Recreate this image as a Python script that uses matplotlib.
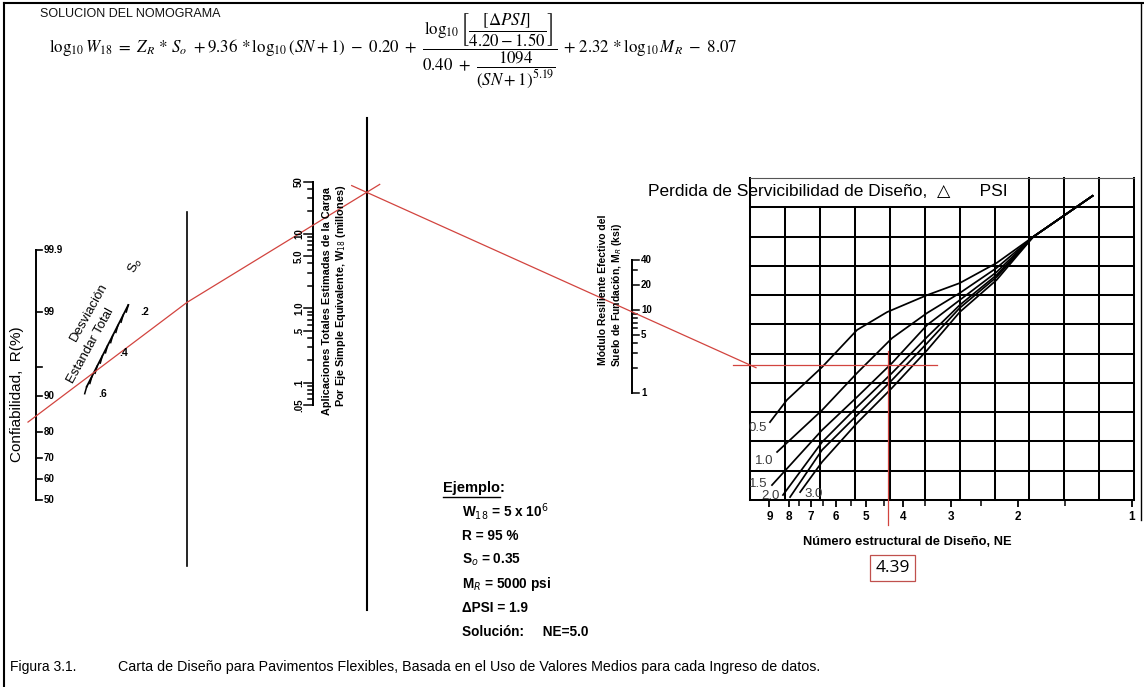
import numpy as np
import matplotlib.pyplot as plt
from statistics import NormalDist

# reliability R (%)
r_ticks = [50, 60, 70, 80, 90, 95, 99, 99.9]
r_labels = ['50', '60', '70', '80', '90', '', '99', '99.9']
# overall standard deviation S0
s0_ticks = [0.2, 0.25, 0.3, 0.35, 0.4, 0.45, 0.5, 0.55, 0.6]
s0_labels = ['.2', '', '', '', '.4', '', '', '', '.6']
# 18-kip ESAL applications (millions)
w18_ticks = [0.05, 0.06, 0.07, 0.08, 0.09, 0.1, 0.2, 0.3, 0.4, 0.5, 0.6, 0.7,
             0.8, 0.9, 1, 2, 3, 4, 5, 6, 7, 8, 9, 10, 20, 30, 40, 50]
w18_major = [0.05, 0.1, 0.5, 1, 5, 10, 50]
w18_labels = ['.05', '.1', '.5', '1.0', '5.0', '10', '50']
# subgrade resilient modulus (ksi)
mr_ticks = [1, 2, 3, 4, 5, 6, 7, 8, 9, 10, 20, 30, 40]
mr_major = [1, 5, 10, 20, 40]
mr_labels = ['1', '5', '10', '20', '40']
# structural number axis
sn_ticks = [1, 2, 3, 4, 5, 6, 7, 8, 9]
sn_minor = [1.5, 2.5, 3.5, 4.5, 5.5, 6.5, 7.5]

# serviceability-loss curves: SN vs grid rows (0 = bottom line)
psi_values = ['0.5', '1.0', '1.5', '2.0', '2.5', '3.0']
psi_sn = [
    [1.27, 1.82, 2.27, 2.84, 3.46, 4.41, 5.29, 6.54, 8.09, 8.97],
    [1.27, 1.82, 2.27, 2.84, 3.46, 4.28, 5.29, 6.54, 8.59],
    [1.27, 1.82, 2.27, 2.84, 3.46, 4.28, 5.29, 6.54, 8.86],
    [1.27, 1.82, 2.27, 2.84, 3.46, 4.28, 5.29, 6.54, 8.29],
    [1.27, 1.82, 2.27, 2.84, 3.46, 4.28, 5.29, 6.54, 7.94],
    [1.27, 1.82, 2.27, 2.84, 3.46, 4.28, 5.29, 6.54, 7.47],
]
psi_row = [
    [10.39, 8.99, 8.10, 7.41, 7.00, 6.42, 5.81, 4.54, 3.42, 2.66],
    [10.39, 8.99, 7.93, 7.07, 6.39, 5.53, 4.34, 3.07, 1.64],
    [10.39, 8.99, 7.79, 6.83, 5.98, 4.68, 3.52, 2.39, 0.51],
    [10.39, 8.99, 7.69, 6.66, 5.57, 4.34, 3.18, 1.98, 0.17],
    [10.39, 8.99, 7.62, 6.56, 5.36, 4.10, 2.90, 1.71, 0.10],
    [10.39, 8.99, 7.52, 6.42, 5.12, 3.83, 2.63, 1.30, 0.27],
]
# label offsets in pixels from each curve's lower end (x right, y up)
psi_label_offset = [(-3, -6), (-4, -9), (-5, 1), (-3, -1), None, (4, -2)]

# worked solution traced on the chart
R_sol, S0_sol, W18_sol, MR_sol, SN_sol = 85, 0.53, 13, 9.5, 4.39

W, H = 1144, 687
SANS = ['Liberation Sans', 'DejaVu Sans']
RED = '#d2443f'

# scale geometry (canvas pixels, y down)
R_X, R_Y50, R_K = 36, 500, 81
S0_A, S0_B = np.array([86.7, 386.7]), np.array([128.3, 305.0])
TL1_X, TL2_X = 187, 366.7
W_X, W_TOP, W_DEC = 313, 181.7, 74.4
M_X, M_BOT, M_DEC = 632, 393, 83
C_X0, C_X1, C_Y0, C_Y1 = 750, 1134.3, 178, 500
SN_X1, SN_DEC = 1132, 380


def r_y(r):
    return R_Y50 - R_K * NormalDist().inv_cdf(r / 100)


def s0_xy(s):
    return S0_A + (0.6 - s) / 0.4 * (S0_B - S0_A)


def w_y(w):
    return W_TOP + (np.log10(50) - np.log10(w)) * W_DEC


def m_y(m):
    return M_BOT - M_DEC * np.log10(m)


def sn_x(sn):
    return SN_X1 - SN_DEC * np.log10(sn)


def sn_at(x):
    return 10 ** ((SN_X1 - x) / SN_DEC)


def y_on_line(p, q, x):
    return p[1] + (q[1] - p[1]) * (x - p[0]) / (q[0] - p[0])


fig = plt.figure(figsize=(W / 100, H / 100), dpi=100)
fig.patch.set_facecolor('white')

# ---- design chart (SN vs turning value) ----
cx = fig.add_axes([C_X0 / W, 1 - C_Y1 / H, (C_X1 - C_X0) / W, (C_Y1 - C_Y0) / H])
cx.set_xscale('log')
cx.set_xlim(sn_at(C_X0), sn_at(C_X1))
cx.set_ylim(0, 11)
cx.patch.set_visible(False)
for sp in cx.spines.values():
    sp.set_visible(False)
cx.set_yticks([])
cx.set_xticks(sn_ticks)
cx.set_xticklabels([str(t) for t in sn_ticks], fontsize=8.5, fontweight='bold',
                   family=SANS)
cx.set_xticks(sn_minor, minor=True)
cx.xaxis.set_minor_formatter(plt.NullFormatter())
cx.tick_params(axis='x', which='major', direction='out', length=5, width=1.3, pad=3)
cx.tick_params(axis='x', which='minor', direction='out', length=4, width=1.1)

ncol = 11
for i in range(ncol + 1):
    top = 1.0 if (i == 0 or i >= 8) else 10 / 11
    cx.plot([i / ncol, i / ncol], [0, top], color='black', lw=1.45,
            transform=cx.transAxes, clip_on=False)
for j in range(11):
    cx.plot([0, 1], [j / 11, j / 11], color='black', lw=1.45,
            transform=cx.transAxes, clip_on=False)
cx.plot([0, 1], [1, 1], color='#555555', lw=0.8, transform=cx.transAxes,
        clip_on=False)

for lab, sn, row, off in zip(psi_values, psi_sn, psi_row, psi_label_offset):
    cx.plot(sn, row, color='black', lw=1.25, clip_on=False)
    if off is not None:
        cx.annotate(lab, (sn[-1], row[-1]), xytext=off, textcoords='offset pixels',
                    ha='left' if off[0] > 0 else 'right', va='center',
                    fontsize=9.5, color='#3a3a3a', family=SANS)

# ---- nomogram canvas on top ----
ax = fig.add_axes([0, 0, 1, 1])
ax.set_xlim(0, W)
ax.set_ylim(H, 0)
ax.axis('off')
ax.patch.set_visible(False)

# frame
ax.plot([4, 4], [3, H], color='black', lw=1.5)
ax.plot([4, W], [3, 3], color='black', lw=1.5)
ax.plot([1141, 1141], [3, 520], color='black', lw=1.0)

ax.text(40, 14, 'SOLUCION DEL NOMOGRAMA', fontsize=9, family=SANS,
        va='center', ha='left', color='#111111')

# design equation: the fraction is set first, the two sides are attached to it
eq_size, eq_base = 12.2, 52
eq_mid = (r'$\dfrac{\log_{10}\left[\dfrac{[\Delta PSI]}{4.20-1.50}\right]}'
          r'{0.40\ +\ \dfrac{1094}{(SN+1)^{5.19}}}$')
eq_left = r'$\log_{10}W_{18}\ =\ Z_R\,*\,S_o\ +9.36\,*\log_{10}(SN+1)\ -\ 0.20\ +$'
eq_right = r'$+\ 2.32\,*\log_{10}M_R\ -\ 8.07$'
mid = ax.text(490, eq_base, eq_mid, fontsize=eq_size, ha='center', va='baseline',
              math_fontfamily='stix')
fig.canvas.draw()
bb = mid.get_window_extent(renderer=fig.canvas.get_renderer())
ax.text(bb.x0 - 5, eq_base, eq_left, fontsize=eq_size, ha='right', va='baseline',
        math_fontfamily='stix')
ax.text(bb.x1 + 5, eq_base, eq_right, fontsize=eq_size, ha='left', va='baseline',
        math_fontfamily='stix')

# reliability scale
ax.plot([R_X, R_X], [r_y(99.9), r_y(50)], color='black', lw=1.4)
for r, lab in zip(r_ticks, r_labels):
    y = r_y(r)
    ax.plot([R_X, R_X + 6], [y, y], color='black', lw=1.2)
    ax.text(R_X + 8, y, lab, fontsize=7, fontweight='bold', va='center',
            family=SANS)
ax.text(17, 394, 'Confiabilidad,  R(%)', rotation=90, fontsize=11,
        ha='center', va='center', family=SANS)

# standard deviation scale
pa, pb = s0_xy(0.6), s0_xy(0.2)
ax.plot([pa[0], pb[0]], [pa[1], pb[1]], color='black', lw=1.3)
for s, lab in zip(s0_ticks, s0_labels):
    x, y = s0_xy(s)
    ax.plot([x, x - 2], [y, y + 7], color='black', lw=1.1)
    if lab:
        ax.text(x + 12, y + 7, lab, fontsize=7.5, fontweight='bold', va='center',
                family=SANS)
ax.text(89, 312, 'Desviación', rotation=61, fontsize=9.5, ha='center',
        va='center', family=SANS, rotation_mode='anchor')
ax.text(91, 346, 'Estandar Total', rotation=61, fontsize=9.5, ha='center',
        va='center', family=SANS, rotation_mode='anchor')
ax.text(136, 265, r'S$_o$', rotation=65, fontsize=9.5, ha='center',
        va='center', family=SANS, math_fontfamily='dejavusans')

# turning lines
ax.plot([TL1_X, TL1_X], [212, 566], color='black', lw=1.2)
ax.plot([TL2_X, TL2_X], [118, 610], color='black', lw=1.5)

# W18 scale
ax.plot([W_X, W_X], [w_y(50), w_y(0.05)], color='black', lw=1.4)
for w in w18_ticks:
    y = w_y(w)
    ln = 9 if w in w18_major else 5
    ax.plot([W_X - ln, W_X], [y, y], color='black', lw=1.1)
for w, lab in zip(w18_major, w18_labels):
    ax.text(W_X - 14, w_y(w), lab, rotation=90, fontsize=7, fontweight='bold',
            ha='center', va='center', family=SANS)
ax.text(327, 301, 'Aplicaciones Totales Estimadas de la Carga', rotation=90,
        fontsize=7.8, fontweight='bold', ha='center', va='center', family=SANS)
ax.text(341, 296, r'Por Eje Simple Equivalente, W$_{18}$ (millones)', rotation=90,
        fontsize=7.8, fontweight='bold', ha='center', va='center', family=SANS,
        math_fontfamily='dejavusans')

# MR scale
ax.plot([M_X, M_X], [m_y(40), m_y(1)], color='black', lw=1.4)
for m in mr_ticks:
    y = m_y(m)
    ln = 7 if m in mr_major else 5
    ax.plot([M_X, M_X + ln], [y, y], color='black', lw=1.1)
for m, lab in zip(mr_major, mr_labels):
    ax.text(M_X + 9, m_y(m), lab, fontsize=7, fontweight='bold', va='center',
            family=SANS)
ax.text(603, 290, 'Módulo Resiliente Efectivo del', rotation=90, fontsize=7.5,
        fontweight='bold', ha='center', va='center', family=SANS)
ax.text(617, 295, r'Suelo de Fundación, M$_R$ (ksi)', rotation=90, fontsize=7.5,
        fontweight='bold', ha='center', va='center', family=SANS,
        math_fontfamily='dejavusans')

# chart captions
ax.text(648, 191, 'Perdida de Servicibilidad de Diseño,  \u25b3      PSI',
        fontsize=12.5, va='center', ha='left', family=SANS)
ax.text(907, 542, 'Número estructural de Diseño, NE', fontsize=9.3,
        fontweight='bold', ha='center', va='center', family=SANS)

# solution path
pR = (R_X, r_y(R_sol))
pS = tuple(s0_xy(S0_sol))
piv1 = (TL1_X, y_on_line(pR, pS, TL1_X))
ax.plot([28, TL1_X], [y_on_line(pR, pS, 28), piv1[1]], color=RED, lw=0.9)
pW = (W_X, w_y(W18_sol))
piv2 = (TL2_X, y_on_line(piv1, pW, TL2_X))
ax.plot([TL1_X, TL2_X + 13], [piv1[1], y_on_line(piv1, pW, TL2_X + 13)],
        color=RED, lw=0.9)
pM = (M_X, m_y(MR_sol))
yc = y_on_line(piv2, pM, C_X0)
ax.plot([TL2_X - 15, C_X0 + 6], [y_on_line(piv2, pM, TL2_X - 15),
                                 y_on_line(piv2, pM, C_X0 + 6)], color=RED, lw=0.9)
ax.plot([733, 937], [yc, yc], color=RED, lw=0.9)
xs = sn_x(SN_sol)
ax.plot([xs, xs], [yc - 14, 525], color=RED, lw=0.9)
ax.text(xs + 5, 568, f'{SN_sol:.2f}', fontsize=12.5, ha='center', va='center',
        family=['Open Sans', 'DejaVu Sans'],
        bbox=dict(boxstyle='square,pad=0.3', fc='white', ec='#c0504d', lw=0.9))

# worked example
ax.text(443, 488, 'Ejemplo:', fontsize=10.5, fontweight='bold', va='center',
        family=SANS)
ax.plot([443, 500], [497, 497], color='black', lw=1.0)
example = [r'W$_{18}$ = 5 x 10$^6$', 'R = 95 %', r'S$_o$ = 0.35',
           r'M$_R$ = 5000 psi', '\u0394PSI = 1.9', 'Solución:     NE=5.0']
for k, line in enumerate(example):
    ax.text(462, 512 + 24 * k, line, fontsize=9.8, fontweight='bold', va='center',
            family=SANS, math_fontfamily='dejavusans')

# figure caption
ax.text(10, 667, 'Figura 3.1.', fontsize=10, va='center', family=SANS)
ax.text(118, 667, 'Carta de Diseño para Pavimentos Flexibles, Basada en el Uso '
        'de Valores Medios para cada Ingreso de datos.', fontsize=10.3,
        va='center', family=SANS)

fig.savefig('out.png', dpi=100)
